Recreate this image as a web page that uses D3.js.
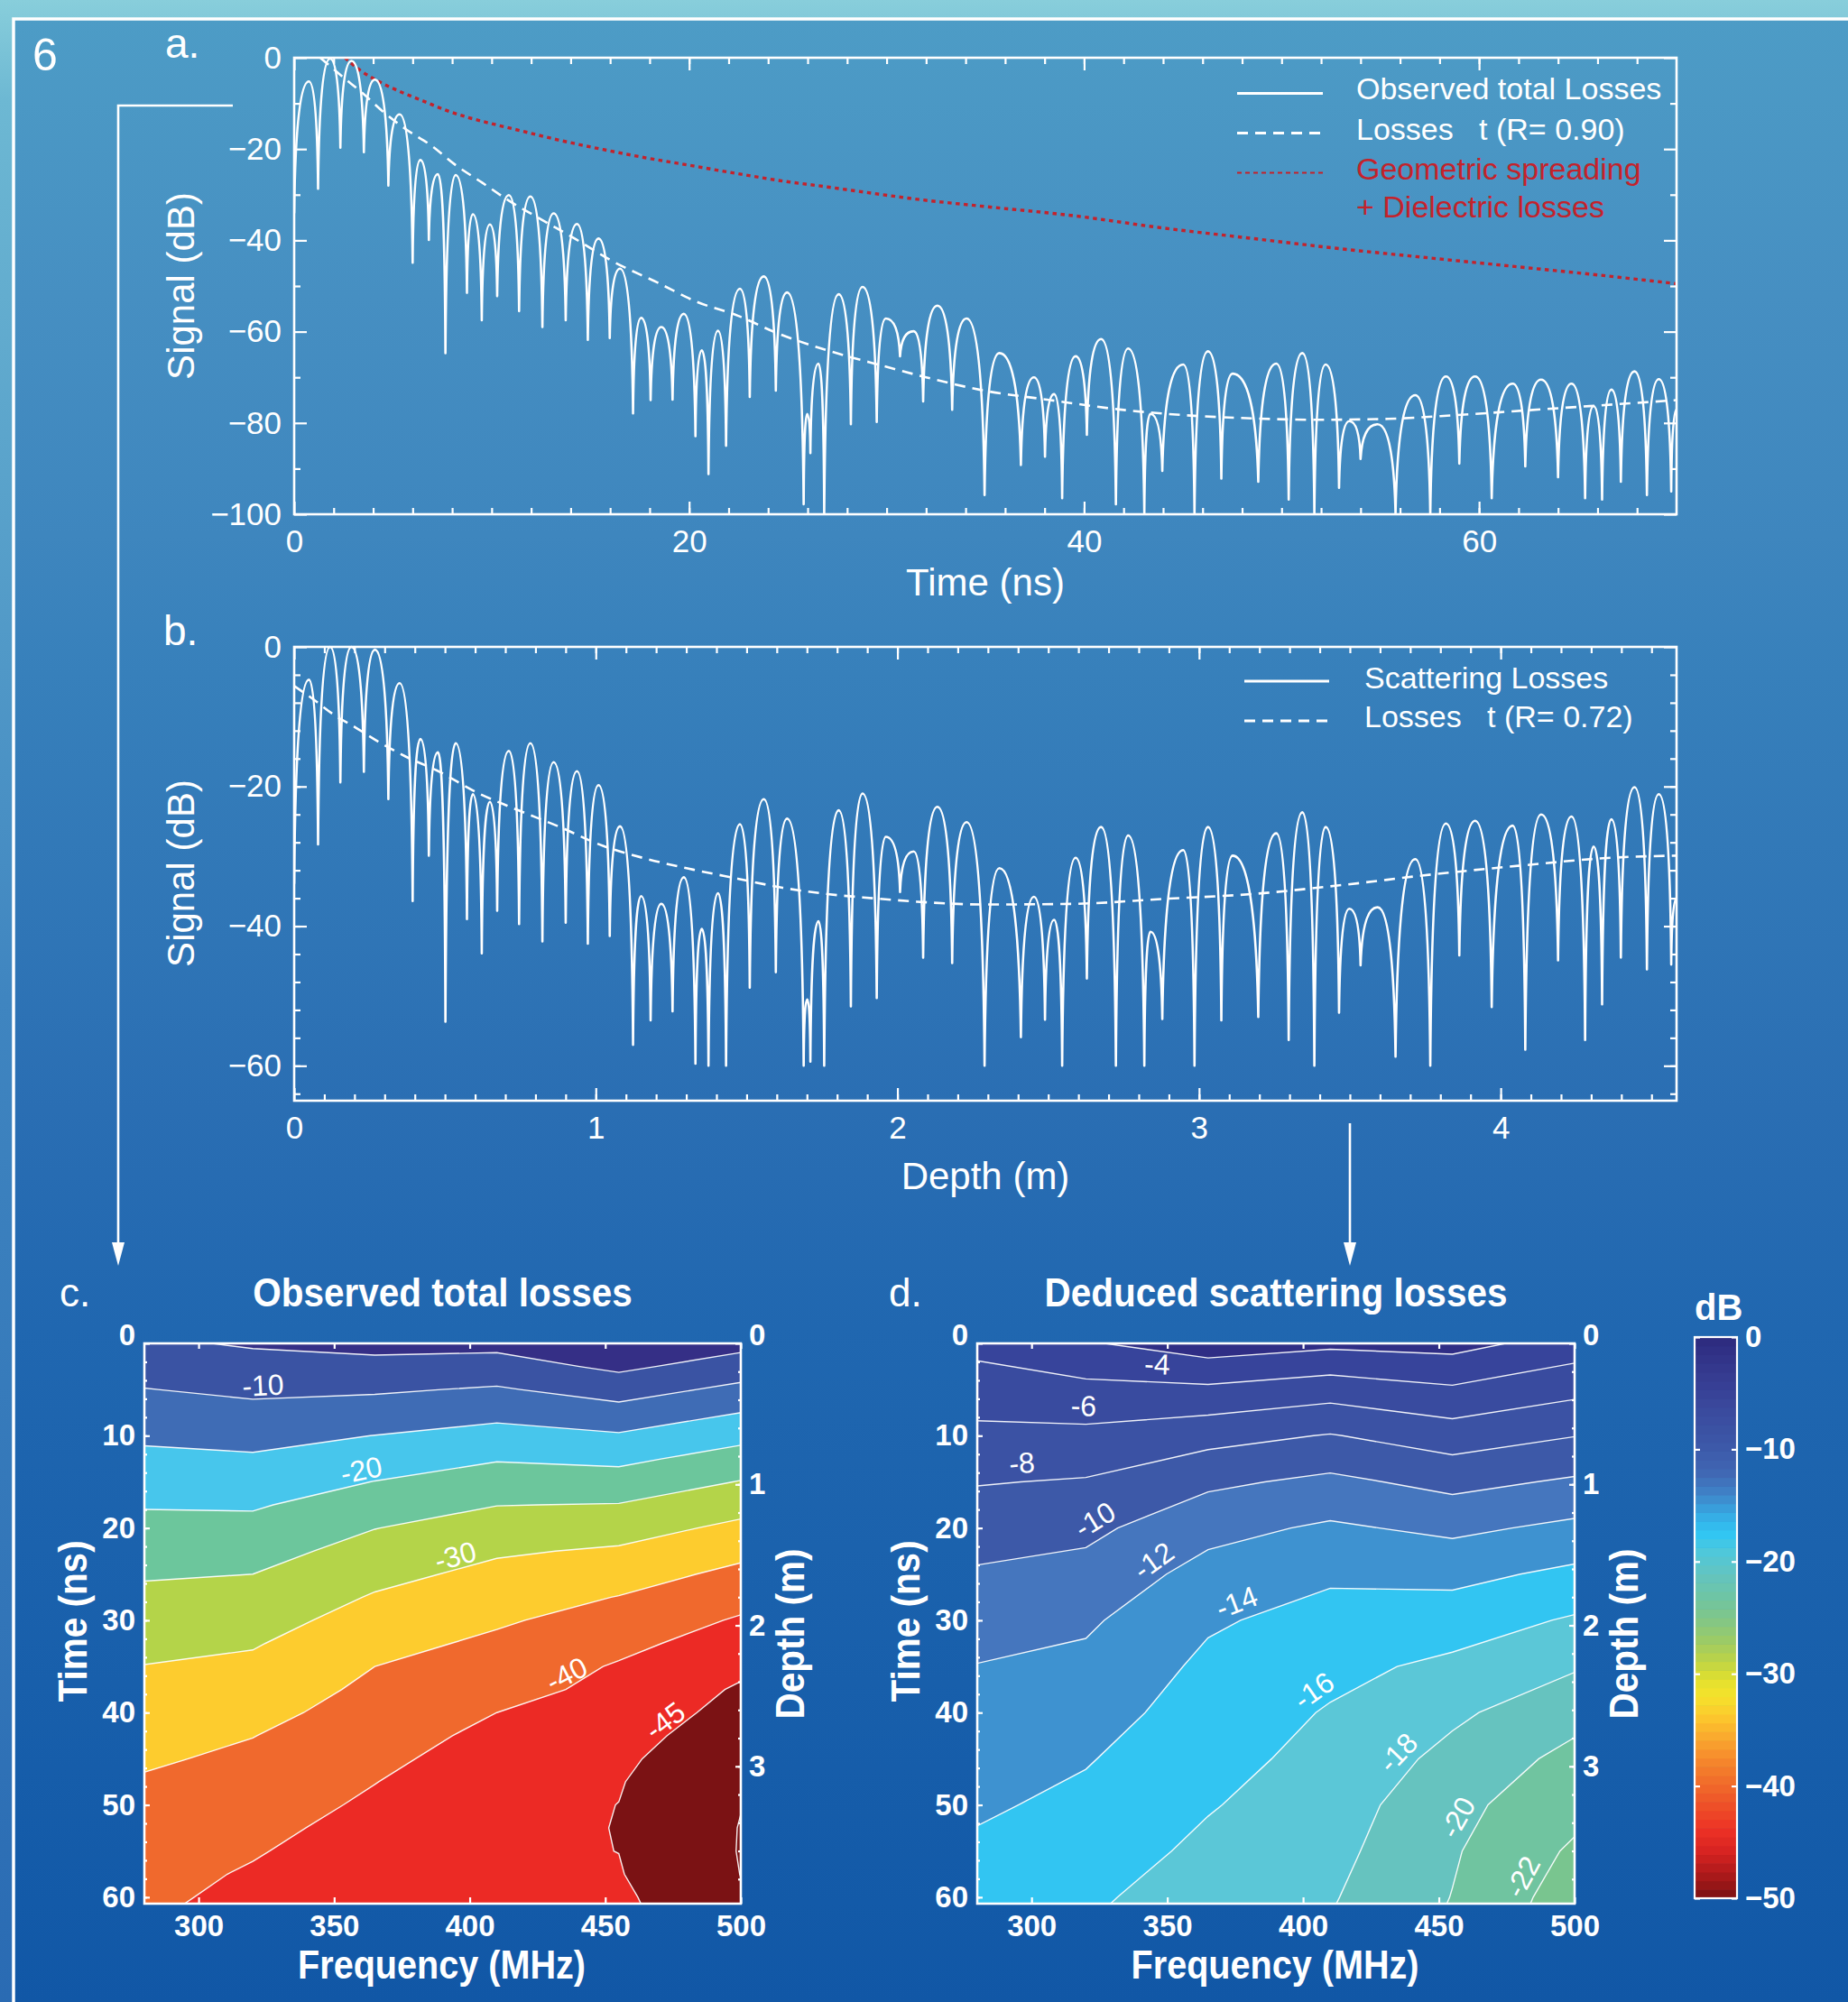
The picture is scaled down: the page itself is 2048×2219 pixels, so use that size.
<!DOCTYPE html>
<html>
<head>
<meta charset="utf-8">
<script src="https://cdn.jsdelivr.net/npm/d3@7"></script>
<style>
  body { margin: 0; background: #1257a6; }
  svg { display: block; }
  text { font-family: "Liberation Sans", Arial, Helvetica, sans-serif; fill: #fff; }
</style>
</head>
<body>
<svg id="fig" width="2048" height="2219"></svg>
<script>
// ---------- panels a / b : turning points of the radar trace (notch, peak, notch ...) ----------
const turnTimeNs = [0, 0.75, 1.21, 1.82, 2.34, 2.9, 3.53, 4.09, 4.77, 5.34,
  6.0, 6.39, 6.82, 7.28, 7.66, 8.18, 8.75, 9.05, 9.5, 9.91,
  10.28, 10.87, 11.39, 11.96, 12.57, 13.14, 13.75, 14.32, 14.87, 15.41,
  15.98, 16.5, 17.16, 17.57, 18.05, 18.59, 19.16, 19.73, 20.32, 20.64,
  20.98, 21.46, 21.87, 22.57, 23.07, 23.78, 24.39, 24.96, 25.8, 25.98,
  26.14, 26.55, 26.84, 27.57, 28.19, 28.78, 29.5, 29.96, 30.68, 31.37,
  31.85, 32.57, 33.32, 34.05, 34.96, 35.71, 36.8, 37.46, 38.02, 38.48,
  38.89, 39.57, 40.14, 40.86, 41.61, 42.23, 43.05, 43.36, 43.96, 45.02,
  45.59, 46.27, 46.95, 47.52, 48.82, 49.73, 50.36, 51.05, 51.66, 52.23,
  52.91, 53.43, 54.0, 54.86, 55.77, 56.77, 57.53, 58.32, 59.0, 59.8,
  60.64, 61.7, 62.34, 63.14, 64.0, 64.68, 65.37, 65.8, 66.23, 66.7,
  67.18, 67.87, 68.5, 69.1, 69.73, 70];

// panel a, observed total losses (dB)
const totalLossDb = [-34, -5.2, -28.7, -0.2, -19.7, -0.7, -20.7, -4.8, -28.0, -12.4,
  -44.9, -22.4, -39.9, -25.5, -64.7, -25.7, -51.5, -34.3, -57.5, -36.5,
  -52.2, -30.1, -55.5, -30.4, -59.0, -34.1, -57.5, -36.4, -61.8, -39.6,
  -61.4, -46.2, -77.9, -57.0, -75.0, -59.0, -74.9, -56.1, -82.9, -64.1,
  -91.2, -59.8, -85.0, -50.6, -74.3, -47.9, -72.9, -51.4, -97.8, -78,
  -86.6, -67, -100, -51.8, -80.3, -50.2, -79.8, -57.1, -65.4, -59.9,
  -75.3, -54.3, -77.1, -57.1, -95.8, -64.7, -89.2, -70.0, -87.4, -73.7,
  -96.5, -65.4, -82.6, -61.6, -97.8, -63.7, -100, -78.0, -90.5, -67.2,
  -100, -64.3, -92.2, -69.2, -92.9, -67.0, -96.8, -64.7, -100, -67.2,
  -94.2, -79.6, -87.9, -80.3, -100, -73.9, -100, -69.8, -88.9, -69.8,
  -96.5, -71.4, -89.5, -70.5, -91.9, -71.4, -96.5, -76.3, -96.8, -72.7,
  -92.9, -68.7, -95.8, -70.4, -95.0, -77];

// panel b, scattering losses (dB)
const scatterLossDb = [-33.9, -4.7, -28.3, 0, -19.4, 0, -17.9, -0.4, -21.8, -5.2,
  -36.4, -13.2, -29.9, -15.1, -53.7, -13.8, -39.0, -21.1, -43.9, -22.2,
  -37.8, -14.9, -39.7, -13.8, -42.2, -16.5, -39.5, -17.8, -42.5, -19.8,
  -41.4, -25.7, -57.0, -35.7, -53.5, -36.8, -52.2, -33.0, -59.7, -40.4,
  -60, -35.3, -60, -25.4, -48.8, -21.8, -46.6, -24.6, -60, -50.5,
  -59.4, -39.3, -60, -23.4, -51.5, -21.0, -50.3, -27.2, -35.1, -29.3,
  -44.5, -22.9, -45.3, -25.1, -60, -31.7, -55.9, -35.8, -53.4, -39.1,
  -60, -30.2, -47.5, -25.8, -60, -27.0, -60, -40.8, -53.3, -29.1,
  -60, -25.8, -53.5, -29.9, -53.0, -26.7, -56.3, -23.7, -60, -25.8,
  -52.4, -37.5, -45.6, -37.3, -58.7, -30.4, -60, -25.3, -44.2, -24.9,
  -51.6, -25.6, -57.7, -24.0, -44.9, -24.3, -56.3, -28.6, -51.2, -24.7,
  -44.5, -20.1, -46.2, -21.1, -45.5, -36];

// fitted loss curves (dashed)
const fitTotalTimeNs = [1.32, 2.46, 3.48, 4.5, 5.64, 7.0, 8.14, 9.5, 10.87, 12.46, 14.28, 16.09, 18.37, 20.41,
  22.46, 24.5, 27.0, 29.73, 32.0, 34.8, 38.3, 41.7, 45.1, 48.5, 51.95, 55.4, 58.8, 62.2, 65.6, 70];
const fitTotalDb = [0, -4.2, -7.8, -11.8, -15.6, -19.4, -23.4, -27.3, -31.3, -35.3, -39.8, -44.5, -49.2, -53.5,
  -56.5, -60.4, -64.1, -67.4, -70.0, -72.8, -75.0, -77.0, -78.3, -79.0, -79.3, -79.1, -78.3, -77.3, -76.3, -75.0];
const fitScatterTimeNs = [0, 0.87, 2.0, 3.14, 4.28, 5.64, 7.23, 9.28, 11.09, 13.37, 15.64, 17.9, 20.2, 22.46,
  24.73, 27.0, 29.3, 31.55, 35.0, 39.5, 44.0, 48.5, 53.1, 57.6, 62.2, 66.7, 70];
const fitScatterDb = [-5.6, -7.3, -9.7, -11.6, -13.6, -15.7, -17.7, -20.9, -23.1, -25.7, -28.5, -30.4, -31.9, -33.2,
  -34.5, -35.4, -36.0, -36.5, -36.9, -36.8, -36.1, -35.4, -34.1, -32.6, -31.3, -30.2, -29.9];

// geometric spreading + dielectric losses (red dotted)
const spreadTimeNs = [2.57, 3.37, 4.28, 5.41, 6.55, 7.68, 8.82, 9.96, 11.1, 13.37, 15.64, 17.9, 20.2, 22.46,
  24.73, 27.0, 29.3, 31.55, 35.0, 39.46, 44.0, 48.55, 53.1, 57.6, 62.2, 66.7, 70];
const spreadDb = [0, -2.85, -5.2, -7.5, -9.5, -11.5, -13.1, -14.4, -15.6, -18.0, -20.1, -22.0, -23.7, -25.4,
  -27.0, -28.3, -29.7, -31.0, -32.6, -34.6, -37.3, -39.6, -41.9, -43.9, -45.9, -47.9, -49.5];

const NS_PER_M = 70 / 4.583;   // two-way time per metre of depth

// ---------- panels c / d : losses (dB) on a frequency x time grid ----------
const freqMHz = [275, 320, 365, 410, 455, 500];
const totalTimeNs = [0, 2.5, 5, 7.5, 10, 12.5, 15, 17.5, 20, 22.5, 25, 27.5, 30, 32.5,
  35, 37.5, 40, 42.5, 45, 47.5, 50, 52.5, 55, 57.5, 60, 62.5, 65];
const totalGrid = [
  [-6.0, -4.5, -3.5, -3.6, -0.5, -3.5],
  [-8.15, -6.7, -6.45, -7.1, -4.0, -7.3],
  [-10.27, -9.06, -9.4, -10.5, -7.9, -11.2],
  [-12.26, -11.3, -12.25, -13.6, -11.8, -15.0],
  [-14.25, -13.47, -15.06, -16.74, -15.5, -18.6],
  [-16.1, -15.6, -17.6, -19.65, -18.9, -22.0],
  [-17.9, -17.55, -20.1, -22.3, -22.1, -25.2],
  [-19.7, -19.5, -22.5, -24.9, -25.2, -28.3],
  [-21.3, -21.38, -24.9, -27.2, -28.0, -31.1],
  [-22.9, -23.2, -26.8, -29.45, -30.6, -33.75],
  [-24.5, -25.0, -28.66, -31.2, -32.9, -36.2],
  [-25.97, -26.5, -30.4, -32.8, -35.15, -38.4],
  [-27.3, -28.1, -31.96, -34.4, -37.0, -40.5],
  [-28.66, -29.6, -33.5, -35.9, -38.8, -42.2],
  [-30.0, -31.0, -35.0, -37.3, -40.4, -43.9],
  [-31.06, -32.3, -36.0, -38.7, -41.0, -45.6],
  [-32.1, -33.6, -36.96, -40.0, -41.8, -46.8],
  [-33.2, -34.9, -37.9, -41.2, -43.1, -47.9],
  [-34.2, -35.9, -38.9, -42.2, -44.1, -48.8],
  [-35.25, -36.8, -39.9, -43.0, -44.74, -49.5],
  [-36.0, -37.7, -40.8, -43.6, -45.04, -49.9],
  [-36.7, -38.7, -41.7, -44.0, -45.09, -50.15],
  [-37.45, -39.6, -42.5, -44.3, -45.03, -50.2],
  [-38.1, -40.5, -43.4, -44.5, -44.76, -50.05],
  [-38.6, -41.3, -44.2, -44.7, -44.13, -49.7],
  [-39.3, -42.2, -44.8, -44.85, -43.6, -49.3],
  [-40.0, -43.0, -44.9, -44.9, -43.05, -48.9]
];
const scatterTimeNs = [0, 5, 10, 15, 20, 25, 30, 35, 40, 45, 50, 55, 60, 65];
const scatterGrid = [
  [-3.5, -2.2, -0.9, -1.55, -1.3, -2.9],
  [-5.02, -4.54, -4.38, -5.13, -4.28, -5.47],
  [-6.49, -6.48, -7.3, -8.11, -7.0, -7.95],
  [-7.86, -8.16, -9.61, -10.45, -9.41, -10.27],
  [-9.05, -9.51, -11.39, -12.29, -11.57, -12.45],
  [-10.17, -10.66, -12.69, -13.71, -13.45, -14.44],
  [-11.08, -11.69, -13.76, -14.66, -15.04, -16.22],
  [-12.0, -12.48, -14.39, -15.48, -16.43, -17.81],
  [-12.54, -13.17, -14.88, -16.15, -17.64, -19.3],
  [-13.08, -13.86, -15.38, -16.57, -18.55, -20.6],
  [-13.62, -14.47, -15.87, -16.99, -19.45, -21.34],
  [-14.25, -15.06, -16.4, -17.41, -19.8, -22.3],
  [-14.9, -15.65, -17.0, -17.83, -20.05, -23.0],
  [-15.5, -16.2, -17.5, -18.25, -20.4, -23.6]
];
const totalLevels = [-50, -45, -40, -35, -30, -25, -20, -15, -10, -5];
const scatterLevels = [-22, -20, -18, -16, -14, -12, -10, -8, -6, -4, -2];
// contour labels: level and the frequency (MHz) where the label sits
const totalLabels = [[-10, 324], [-20, 361], [-30, 396], [-40, 438], [-45, 475]];
const scatterLabels = [[-4, 346], [-6, 319], [-8, 297], [-10, 327], [-12, 349], [-14, 378],
  [-16, 408], [-18, 440], [-20, 463], [-22, 487]];

// ---------- styles ----------
const totalFills = ["#7b1214", "#ec2a25", "#f0692d", "#fdcc2e", "#b4d449", "#6cc69c", "#47c6ec", "#3f6cb5", "#3a53a3", "#352f86"];
const totalBase = "#7b1214";
const scatterFills = ["#70c4a0", "#66c3bf", "#5bc7d7", "#32c5f2", "#3e92d0", "#4576be", "#3d59a8", "#3b52a4", "#394b9f", "#37449b", "#2f2d85"];
const scatterBase = "#79c58f";
const cbStops = [0, -3, -6, -9, -12, -14, -16, -17.5, -19, -21, -23, -25, -27, -29, -30.5, -32, -34, -36, -38, -40, -42, -44, -46, -48, -50];
const cbColors = ["#2d2a7e", "#35398f", "#3a489c", "#3c55a6", "#4066b3", "#3f84c8", "#36aee6", "#30c6f3", "#4ec8dc", "#62c4c2",
  "#6ec5a6", "#7fc68a", "#9ccb66", "#c0d444", "#e2e12e", "#f6e22c", "#fcc52d", "#f9a32e", "#f5832c", "#f0682a",
  "#ee4c28", "#ec3025", "#d52221", "#a9191a", "#7a1212"];
const RED = "#c4222b";

const W = 2048, H = 2219;
const svg = d3.select("#fig");
const defs = svg.append("defs");

function gradient(id, stops) {
  const lg = defs.append("linearGradient").attr("id", id)
    .attr("x1", 0).attr("y1", 0).attr("x2", 0).attr("y2", 1);
  lg.selectAll("stop").data(stops).join("stop")
    .attr("offset", d => d[0]).attr("stop-color", d => d[1]);
}
gradient("outerBg", [[0, "#88cedb"], [0.05, "#6db8d3"], [0.5, "#3f85c0"], [1, "#2a6bb3"]]);
gradient("innerBg", [[0, "#4d9cc6"], [0.14, "#468fc2"], [0.26, "#3e86be"], [0.33, "#3780bb"],
  [0.55, "#2a6eb3"], [0.66, "#2067b0"], [0.95, "#135aa8"], [1, "#1157a6"]]);

svg.append("rect").attr("width", W).attr("height", H).attr("fill", "url(#outerBg)");
svg.append("rect").attr("x", 16).attr("y", 21).attr("width", W - 16).attr("height", H - 21).attr("fill", "url(#innerBg)");
svg.append("path").attr("d", `M${W},21H15V${H}`).attr("fill", "none").attr("stroke", "#fff").attr("stroke-width", 3.5);

function label(txt, x, y, o = {}) {
  const t = svg.append("text")
    .attr("transform", `translate(${x},${y})` + (o.rot ? ` rotate(${o.rot})` : "") + (o.k ? ` scale(${o.k},1)` : ""))
    .attr("text-anchor", o.anchor || "start")
    .attr("font-size", o.size || 35)
    .attr("font-weight", o.bold ? 700 : 400)
    .style("white-space", "pre")
    .text(txt);
  if (o.fill) t.style("fill", o.fill);
  return t;
}

function styleTicks(g, size, bold) {
  g.select(".domain").remove();
  g.selectAll(".tick line").attr("stroke", "#fff").attr("stroke-width", 2.2);
  g.selectAll(".tick text").attr("font-size", size).attr("font-weight", bold ? 700 : 400)
    .attr("font-family", '"Liberation Sans", Arial, sans-serif');
}

// ---------- line panels ----------
function lobeCurve(context) {
  // steep flanks into the notches, rounded over the peaks
  let x0, y0, n = 0;
  return {
    areaStart() {}, areaEnd() {},
    lineStart() { n = 0; },
    lineEnd() {},
    point(x, y) {
      x = +x; y = +y;
      if (n++ === 0) context.moveTo(x, y);
      else {
        const dx = x - x0, dy = y - y0;
        if (dy < 0) context.bezierCurveTo(x0 + 0.08 * dx, y0 + 0.7 * dy, x0 + 0.45 * dx, y, x, y);
        else context.bezierCurveTo(x0 + 0.55 * dx, y0, x0 + 0.92 * dx, y0 + 0.3 * dy, x, y);
      }
      x0 = x; y0 = y;
    }
  };
}

function linePanel(p) {
  const g = svg.append("g");
  const x = p.x, y = p.y;
  const [x0, x1] = x.range(), [yb, yt] = y.range();
  const add = (axis, tr, vals, size, fmt, pad) => {
    const a = g.append("g").attr("transform", tr)
      .call(axis.tickValues(vals).tickSize(size).tickPadding(pad || 0).tickFormat(fmt || (() => "")));
    styleTicks(a, 35);
  };
  add(d3.axisBottom(x), `translate(0,${yb})`, p.xMin, -7);
  add(d3.axisBottom(x), `translate(0,${yb})`, p.xMaj, -14, d3.format("d"), 17);
  add(d3.axisTop(x), `translate(0,${yt})`, p.xMin, -7);
  add(d3.axisTop(x), `translate(0,${yt})`, p.xMaj, -14);
  add(d3.axisLeft(y), `translate(${x0},0)`, p.yMin, -7);
  add(d3.axisLeft(y), `translate(${x0},0)`, p.yMaj, -14, d3.format("d"), 14);
  add(d3.axisRight(y), `translate(${x1},0)`, p.yMin, -7);
  add(d3.axisRight(y), `translate(${x1},0)`, p.yMaj, -14);

  defs.append("clipPath").attr("id", p.id).append("rect")
    .attr("x", x0).attr("y", yt - 2).attr("width", x1 - x0).attr("height", yb - yt + 2);
  const body = g.append("g").attr("clip-path", `url(#${p.id})`);
  const px = t => x(t * p.tScale);

  const smooth = d3.line().x(d => px(d[0])).y(d => y(d[1])).curve(d3.curveMonotoneX);
  (p.extra || []).forEach(s => {
    body.append("path").attr("d", smooth(d3.zip(s.t, s.v))).attr("fill", "none")
      .attr("stroke", s.color).attr("stroke-width", s.width).attr("stroke-dasharray", s.dash);
  });

  const lobe = d3.line().x(d => px(d[0])).y(d => y(d[1])).curve(lobeCurve);
  body.append("path").attr("d", lobe(d3.zip(turnTimeNs, p.values))).attr("fill", "none")
    .attr("stroke", "#fff").attr("stroke-width", 2.6).attr("stroke-linecap", "round").attr("stroke-linejoin", "round");

  body.append("path").attr("d", smooth(d3.zip(p.fit.t, p.fit.v))).attr("fill", "none")
    .attr("stroke", "#fff").attr("stroke-width", 2.6).attr("stroke-dasharray", "12 8");

  g.append("rect").attr("x", x0).attr("y", yt).attr("width", x1 - x0).attr("height", yb - yt)
    .attr("fill", "none").attr("stroke", "#fff").attr("stroke-width", 2.6);
}

linePanel({
  id: "clipA",
  x: d3.scaleLinear([0, 70], [326, 1858]),
  y: d3.scaleLinear([-100, 0], [570, 64]),
  tScale: 1,
  xMaj: [0, 20, 40, 60], xMin: d3.range(2, 70, 2),
  yMaj: [0, -20, -40, -60, -80, -100], yMin: [-10, -30, -50, -70, -90],
  values: totalLossDb,
  fit: { t: fitTotalTimeNs, v: fitTotalDb },
  extra: [{ t: spreadTimeNs, v: spreadDb, color: RED, width: 3.4, dash: "4.5 4.5" }]
});
linePanel({
  id: "clipB",
  x: d3.scaleLinear([0, 70 / NS_PER_M], [326, 1858]),
  y: d3.scaleLinear([-65, 0], [1220, 717]),
  tScale: 1 / NS_PER_M,
  xMaj: [0, 1, 2, 3, 4], xMin: d3.range(0.1, 4.58, 0.1),
  yMaj: [0, -20, -40, -60], yMin: d3.range(-64, 0, 4),
  values: scatterLossDb,
  fit: { t: fitScatterTimeNs, v: fitScatterDb }
});

// panel letters, axis titles, legends
label("6", 36, 78, { size: 50 });
label("a.", 183, 64, { size: 46 });
label("b.", 181, 715, { size: 46 });
label("Time (ns)", 1092, 660, { size: 42, anchor: "middle" });
label("Depth (m)", 1092, 1318, { size: 42, anchor: "middle" });
label("Signal (dB)", 215, 317, { size: 42, anchor: "middle", rot: -90 });
label("Signal (dB)", 215, 968, { size: 42, anchor: "middle", rot: -90 });

function legendLine(x0, x1, yy, stroke, w, dash) {
  svg.append("line").attr("x1", x0).attr("x2", x1).attr("y1", yy).attr("y2", yy)
    .attr("stroke", stroke).attr("stroke-width", w).attr("stroke-dasharray", dash || null);
}
legendLine(1371, 1466, 103.5, "#fff", 3);
legendLine(1371, 1466, 147.5, "#fff", 3, "12 8");
legendLine(1371, 1466, 191.5, RED, 2, "5 4");
label("Observed total Losses", 1503, 110, { size: 34 });
label("Losses   t (R= 0.90)", 1503, 155, { size: 34 });
label("Geometric spreading", 1503, 199, { size: 34, fill: RED });
label("+ Dielectric losses", 1503, 241, { size: 34, fill: RED });

legendLine(1379, 1473, 755, "#fff", 3);
legendLine(1379, 1473, 799, "#fff", 3, "12 8");
label("Scattering Losses", 1512, 763, { size: 34 });
label("Losses   t (R= 0.72)", 1512, 806, { size: 34 });

// connector arrows
function arrow(dPath, tipX, tipY) {
  svg.append("path").attr("d", dPath).attr("fill", "none").attr("stroke", "#fff").attr("stroke-width", 2.6);
  svg.append("path").attr("d", `M${tipX - 7},${tipY - 26}L${tipX + 7},${tipY - 26}L${tipX},${tipY}Z`).attr("fill", "#fff");
}
arrow("M258,117H131V1380", 131, 1403);
arrow("M1496,1245V1380", 1496, 1403);

// ---------- contour panels ----------
function sample(grid, times, f, t) {
  const fi = (f - freqMHz[0]) / (freqMHz[1] - freqMHz[0]);
  const ti = (t - times[0]) / (times[1] - times[0]);
  const i = Math.max(0, Math.min(freqMHz.length - 2, Math.floor(fi)));
  const j = Math.max(0, Math.min(times.length - 2, Math.floor(ti)));
  const u = fi - i, v = ti - j;
  return (1 - u) * (1 - v) * grid[j][i] + u * (1 - v) * grid[j][i + 1]
    + (1 - u) * v * grid[j + 1][i] + u * v * grid[j + 1][i + 1];
}

function contourPanel(p) {
  const g = svg.append("g");
  const top = 1489, bot = 2110, tMax = 60.7;
  const x = d3.scaleLinear([280, 500], [p.x0, p.x1]);
  const y = d3.scaleLinear([0, tMax], [top, bot]);
  const depth = d3.scaleLinear([0, tMax / NS_PER_M], [top, bot]);

  defs.append("clipPath").attr("id", p.id).append("rect")
    .attr("x", p.x0).attr("y", top).attr("width", p.x1 - p.x0).attr("height", bot - top);
  const body = g.append("g").attr("clip-path", `url(#${p.id})`);
  body.append("rect").attr("x", p.x0).attr("y", top).attr("width", p.x1 - p.x0).attr("height", bot - top).attr("fill", p.base);

  const df = freqMHz[1] - freqMHz[0], dt = p.times[1] - p.times[0];
  const proj = d3.geoTransform({
    point(px, py) { this.stream.point(x(freqMHz[0] + (px - 0.5) * df), y(p.times[0] + (py - 0.5) * dt)); }
  });
  const path = d3.geoPath(proj);
  const bands = d3.contours().size([freqMHz.length, p.times.length]).thresholds(p.levels)(p.grid.flat());
  body.selectAll("path.band").data(bands).join("path").attr("class", "band")
    .attr("d", path).attr("fill", (d, i) => p.fills[i]);
  body.selectAll("path.iso").data(bands).join("path").attr("class", "iso")
    .attr("d", path).attr("fill", "none").attr("stroke", "#fff").attr("stroke-width", 1.4).attr("stroke-opacity", 0.92);

  // contour labels ride just above the line where each level crosses the given frequency
  const pxF = (p.x1 - p.x0) / 220, pxT = (bot - top) / tMax;
  p.labels.forEach(([lev, f]) => {
    let t = 0;
    while (t < 60 && sample(p.grid, p.times, f, t) > lev) t += 0.05;
    const gf = (sample(p.grid, p.times, f + 0.5, t) - sample(p.grid, p.times, f - 0.5, t)) / pxF;
    const gt = (sample(p.grid, p.times, f, t + 0.2) - sample(p.grid, p.times, f, Math.max(0, t - 0.2)))
      / (t > 0.2 ? 0.4 : 0.2 + t) / pxT;
    let ang = Math.atan2(gf, -gt) * 180 / Math.PI;
    if (ang > 90) ang -= 180;
    if (ang < -90) ang += 180;
    g.append("text").attr("transform", `translate(${x(f)},${y(t)}) rotate(${ang}) translate(0,${p.lift})`)
      .attr("text-anchor", "middle").attr("dy", "0.35em").attr("font-size", 32).text(String(lev));
  });

  const add = (axis, tr, vals, size, fmt, pad) => {
    const a = g.append("g").attr("transform", tr)
      .call(axis.tickValues(vals).tickSize(size).tickPadding(pad || 0).tickFormat(fmt || (() => "")));
    styleTicks(a, 33, true);
    a.selectAll(".tick text").filter(d => d === 0).attr("y", -9);
    return a;
  };
  const ticksMHz = [300, 350, 400, 450, 500];
  add(d3.axisBottom(x), `translate(0,${bot})`, ticksMHz, -7, d3.format("d"), 13);
  add(d3.axisTop(x), `translate(0,${top})`, ticksMHz, -6);
  add(d3.axisLeft(y), `translate(${p.x0},0)`, d3.range(2, 61, 2), -3);
  add(d3.axisLeft(y), `translate(${p.x0},0)`, d3.range(0, 61, 10), -6, d3.format("d"), 10);
  add(d3.axisRight(depth), `translate(${p.x1},0)`, d3.range(0.2, 3.95, 0.2), -3);
  add(d3.axisRight(depth), `translate(${p.x1},0)`, [0, 1, 2, 3], -6, d3.format("d"), 9);

  g.append("rect").attr("x", p.x0).attr("y", top).attr("width", p.x1 - p.x0).attr("height", bot - top)
    .attr("fill", "none").attr("stroke", "#fff").attr("stroke-width", 2.6);

  const mid = (p.x0 + p.x1) / 2;
  label(p.title, mid, 1448, { size: 44, bold: true, anchor: "middle", k: 0.92 });
  label(p.letter, p.letterX, 1448, { size: 44 });
  label("Frequency (MHz)", mid - 1, 2193, { size: 44, bold: true, anchor: "middle", k: 0.9 });
  label("Time (ns)", p.x0 - 64, 1797, { size: 45, bold: true, anchor: "middle", rot: -90, k: 0.9 });
  label("Depth (m)", p.x1 + 70, 1811, { size: 45, bold: true, anchor: "middle", rot: -90, k: 0.9 });
}

contourPanel({
  id: "clipC", x0: 160, x1: 821, grid: totalGrid, times: totalTimeNs, levels: totalLevels, fills: totalFills,
  base: totalBase, labels: totalLabels, lift: -15, title: "Observed total losses", letter: "c.", letterX: 66
});
contourPanel({
  id: "clipD", x0: 1083, x1: 1745, grid: scatterGrid, times: scatterTimeNs, levels: scatterLevels, fills: scatterFills,
  base: scatterBase, labels: scatterLabels, lift: -21, title: "Deduced scattering losses", letter: "d.", letterX: 985
});

// ---------- colour bar ----------
const cb = { x: 1878, w: 47, top: 1482, bot: 2104 };
const cbY = d3.scaleLinear([-50, 0], [cb.bot, cb.top]);
const cmap = d3.scaleLinear().domain(cbStops).range(cbColors);
const nSteps = 64, step = 50 / nSteps;
const steps = d3.range(nSteps).map(k => -50 + k * step);
svg.append("g").selectAll("rect").data(steps).join("rect")
  .attr("x", cb.x).attr("width", cb.w)
  .attr("y", d => cbY(d + step)).attr("height", d => cbY(d) - cbY(d + step) + 0.6)
  .attr("fill", d => cmap(d + step / 2));
const cbAxisL = svg.append("g").attr("transform", `translate(${cb.x},0)`)
  .call(d3.axisLeft(cbY).tickValues(d3.range(-50, 1, 10)).tickSize(-6).tickFormat(() => ""));
styleTicks(cbAxisL, 33, true);
const cbAxisR = svg.append("g").attr("transform", `translate(${cb.x + cb.w},0)`)
  .call(d3.axisRight(cbY).tickValues(d3.range(-50, 1, 10)).tickSize(-6).tickPadding(9).tickFormat(d3.format("d")));
styleTicks(cbAxisR, 33, true);
svg.append("rect").attr("x", cb.x).attr("y", cb.top).attr("width", cb.w).attr("height", cb.bot - cb.top)
  .attr("fill", "none").attr("stroke", "#fff").attr("stroke-width", 2.2);
label("dB", cb.x, 1463, { size: 40, bold: true });
</script>
</body>
</html>
